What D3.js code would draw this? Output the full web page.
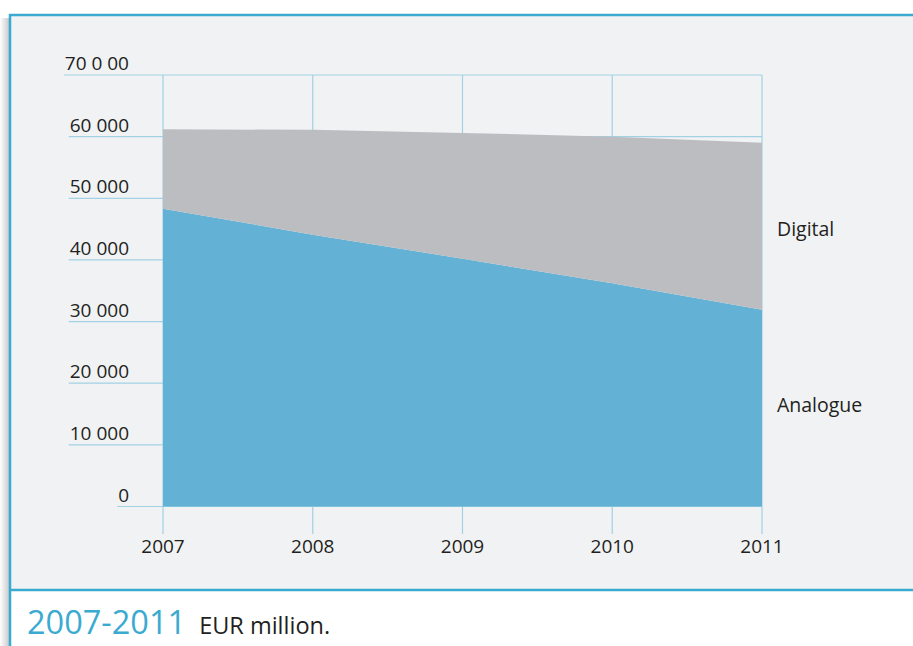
<!DOCTYPE html>
<html><head><meta charset="utf-8">
<script src="https://cdn.jsdelivr.net/npm/d3@7"></script>
<style>html,body{margin:0;padding:0;background:#fff;}svg{display:block;font-family:"Open Sans",sans-serif;}</style>
</head><body><svg id="c" width="913" height="646"></svg>
<script>
const years = [2007, 2008, 2009, 2010, 2011];
const analogue = [48300, 44100, 40200, 36200, 31900];
const digital = [12900, 17000, 20400, 23800, 27100];
const yTickValues = [0, 10000, 20000, 30000, 40000, 50000, 60000, 70000];
const yTickLabels = ["0", "10 000", "20 000", "30 000", "40 000", "50 000", "60 000", "70 0 00"];
const seriesNames = ["Analogue", "Digital"];
const captionYears = "2007-2011";
const captionUnit = "EUR million.";

const svg = d3.select("#c");
const defs = svg.append("defs");
const g1 = defs.append("linearGradient").attr("id", "sh").attr("x1", 0).attr("x2", 1);
g1.append("stop").attr("offset", 0).attr("stop-color", "#ffffff");
g1.append("stop").attr("offset", 1).attr("stop-color", "#c4c5c7");

// frame
svg.append("rect").attr("x", 0).attr("y", 18).attr("width", 10).attr("height", 628).attr("fill", "url(#sh)");
svg.append("rect").attr("x", 10).attr("y", 15).attr("width", 903).attr("height", 575).attr("fill", "#f1f2f4");
svg.append("line").attr("x1", 9).attr("x2", 913).attr("y1", 15).attr("y2", 15).attr("stroke", "#3aaad0").attr("stroke-width", 2.5);
svg.append("line").attr("x1", 10).attr("x2", 10).attr("y1", 14).attr("y2", 646).attr("stroke", "#3aaad0").attr("stroke-width", 2.5);
svg.append("line").attr("x1", 10).attr("x2", 913).attr("y1", 590).attr("y2", 590).attr("stroke", "#3aaad0").attr("stroke-width", 2.5);

const x = d3.scaleLinear().domain([2007, 2011]).range([163, 762]);
const y = d3.scaleLinear().domain([0, 70000]).range([506.5, 75]);
const grid = "#a2d1e4";

// y labels + gridlines
const yl = svg.append("g");
yTickValues.forEach((v, i) => {
  const t = yl.append("text").attr("x", 129).attr("y", y(v) - 5).attr("text-anchor", "end")
    .attr("font-size", 19).attr("fill", "#231f20").text(yTickLabels[i]);
  const w = t.node().getComputedTextLength();
  yl.append("line").attr("x1", 129 - w - 1).attr("x2", x(2011)).attr("y1", y(v)).attr("y2", y(v))
    .attr("stroke", grid).attr("stroke-width", 1.2);
});
// vertical lines
years.forEach(yr => {
  svg.append("line").attr("x1", x(yr)).attr("x2", x(yr)).attr("y1", y(70000)).attr("y2", 534)
    .attr("stroke", grid).attr("stroke-width", 1.2);
  svg.append("text").attr("x", x(yr)).attr("y", 553).attr("text-anchor", "middle")
    .attr("font-size", 19).attr("fill", "#231f20").text(yr);
});

// stacked areas
const rows = years.map((yr, i) => ({year: yr, Analogue: analogue[i], Digital: digital[i]}));
const stack = d3.stack().keys(seriesNames)(rows);
const colors = {Analogue: "#63b2d5", Digital: "#bcbdc1"};
const area = d3.area().x(d => x(d.data.year)).y0(d => y(d[0])).y1(d => y(d[1]));
svg.append("g").selectAll("path").data(stack).join("path")
  .attr("d", area).attr("fill", d => colors[d.key]);

// series labels
svg.append("text").attr("x", 777).attr("y", 236).attr("font-size", 19.5).attr("fill", "#231f20").text("Digital");
svg.append("text").attr("x", 777).attr("y", 412).attr("font-size", 19.5).attr("fill", "#231f20").text("Analogue");

// caption
const cap = svg.append("text").attr("x", 27).attr("y", 634);
cap.append("tspan").attr("font-size", 32.5).attr("fill", "#3aaad0").text(captionYears);
cap.append("tspan").attr("dx", 13).attr("font-size", 23.5).attr("fill", "#231f20").text(captionUnit);
</script></body></html>
